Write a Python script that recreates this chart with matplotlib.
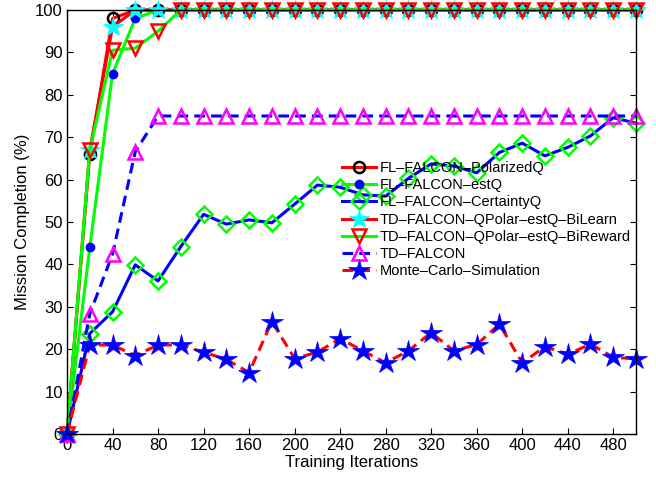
import matplotlib
matplotlib.use('Agg')
import matplotlib.pyplot as plt

plt.rcParams['font.family'] = ['Liberation Sans', 'DejaVu Sans']

# Training iterations (x) and mission completion (%) for each method
iterations = [0, 20, 40, 60, 80, 100, 120, 140, 160, 180, 200, 220, 240,
              260, 280, 300, 320, 340, 360, 380, 400, 420, 440, 460, 480, 500]

polarized_q = [0, 66, 98, 100, 100, 100, 100, 100, 100, 100, 100, 100, 100,
               100, 100, 100, 100, 100, 100, 100, 100, 100, 100, 100, 100, 100]
est_q = [0, 44, 85, 98, 100, 100, 100, 100, 100, 100, 100, 100, 100,
         100, 100, 100, 100, 100, 100, 100, 100, 100, 100, 100, 100, 100]
certainty_q = [0, 23.7, 28.8, 39.9, 36.1, 44.2, 51.8, 49.5, 50.5, 49.8, 54.2, 58.7, 58.2,
               56.4, 56.1, 60.3, 63.7, 63.2, 61.6, 66.4, 68.6, 65.6, 67.6, 70.3, 74.6, 73.3]
bi_learn = [0, 67, 96, 100, 100, 100, 100, 100, 100, 100, 100, 100, 100,
            100, 100, 100, 100, 100, 100, 100, 100, 100, 100, 100, 100, 100]
bi_reward = [0, 67, 90.5, 91, 95, 100, 100, 100, 100, 100, 100, 100, 100,
             100, 100, 100, 100, 100, 100, 100, 100, 100, 100, 100, 100, 100]
td_falcon = [0, 28.3, 42.4, 66.6, 75, 75, 75, 75, 75, 75, 75, 75, 75,
             75, 75, 75, 75, 75, 75, 75, 75, 75, 75, 75, 75, 75]
monte_carlo = [0, 21, 21, 18.5, 21, 21, 19.3, 17.6, 14.5, 26.5, 17.8, 19.3, 22.5,
               19.6, 16.8, 19.6, 23.9, 19.6, 21.1, 25.9, 16.8, 20.6, 18.8, 21.2, 18.1, 17.7]

labels = ['FL–FALCON–PolarizedQ', 'FL–FALCON–estQ', 'FL–FALCON–CertaintyQ',
          'TD–FALCON–QPolar–estQ–BiLearn', 'TD–FALCON–QPolar–estQ–BiReward',
          'TD–FALCON', 'Monte–Carlo–Simulation']
x_ticks = [0, 40, 80, 120, 160, 200, 240, 280, 320, 360, 400, 440, 480]
y_ticks = [0, 10, 20, 30, 40, 50, 60, 70, 80, 90, 100]

fig = plt.figure(figsize=(6.56, 4.80), dpi=100)
ax = fig.add_axes([67 / 656, 1 - 434 / 480, (636 - 67) / 656, (434 - 10) / 480])

lw = 2.2
dash = (0, (3.5, 2))
ax.plot(iterations, polarized_q, color='red', lw=lw, marker='o', ms=8, mew=1.8,
        mfc='none', mec='black', label=labels[0], clip_on=False)
ax.plot(iterations, est_q, color=(0, 1, 0), lw=lw, marker='.', ms=12,
        mfc='blue', mec='blue', label=labels[1], clip_on=False)
ax.plot(iterations, certainty_q, color='blue', lw=lw, marker='D', ms=8, mew=1.8,
        mfc='none', mec=(0, 1, 0), label=labels[2], clip_on=False)
ax.plot(iterations, bi_learn, color='red', lw=lw, marker='*', ms=15, mew=0.5,
        mfc='cyan', mec='cyan', label=labels[3], clip_on=False)
ax.plot(iterations, bi_reward, color=(0, 1, 0), lw=lw, marker='v', ms=10, mew=1.8,
        mfc='none', mec='red', label=labels[4], clip_on=False)
ax.plot(iterations, td_falcon, color='blue', lw=lw, ls=dash, marker='^', ms=10,
        mew=1.8, mfc='none', mec='magenta', label=labels[5], clip_on=False)
ax.plot(iterations, monte_carlo, color='red', lw=lw, ls=dash, marker='*', ms=16,
        mew=0.5, mfc='blue', mec='blue', label=labels[6], clip_on=False)

ax.set_xlim(0, 500)
ax.set_ylim(0, 100)
ax.set_xticks(x_ticks)
ax.set_yticks(y_ticks)
ax.tick_params(direction='in', length=4, width=0.8, top=True, right=True,
               labelsize=12, pad=3)
for s in ax.spines.values():
    s.set_linewidth(1.0)

ax.set_xlabel('Training Iterations', fontsize=12, labelpad=1)
ax.set_ylabel('Mission Completion (%)', fontsize=12, labelpad=4)

ax.legend(loc='upper left', bbox_to_anchor=(342 / 656, 1 - 161 / 480),
          bbox_transform=fig.transFigure, frameon=False, fontsize=10.5,
          numpoints=1, handlelength=2.3, handletextpad=0.3, labelspacing=0.22,
          borderpad=0, borderaxespad=0)

fig.savefig('out.png', dpi=100)
